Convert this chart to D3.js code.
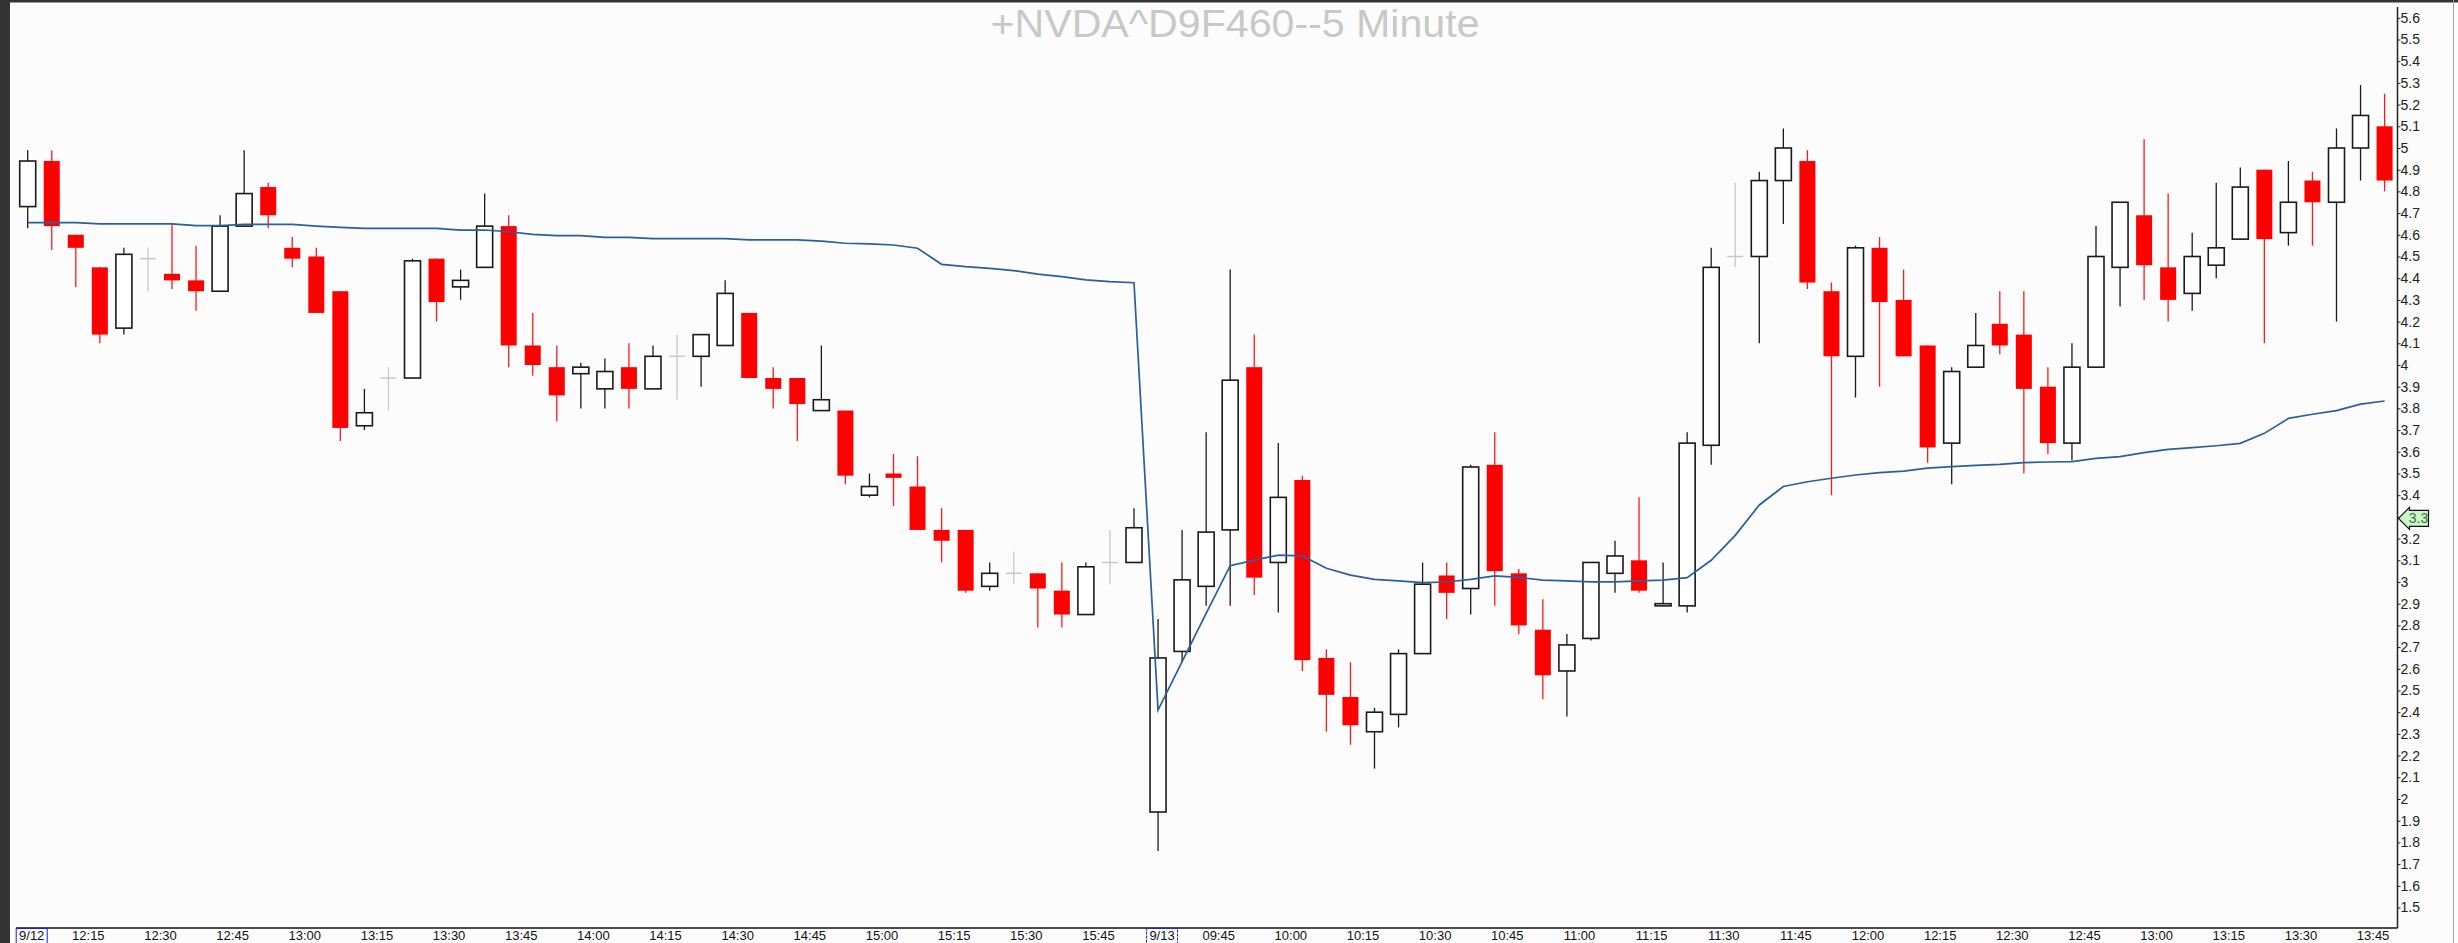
<!DOCTYPE html>
<html lang="en">
<head>
    <meta charset="UTF-8">
    <title>+NVDA^D9F460--5 Minute</title>
    <script src="https://d3js.org/d3.v7.min.js"></script>
    <style>
        body {
            margin: 0;
            overflow: hidden;
            background: #fcfcfc;
            font-family: Arial, "Liberation Sans", sans-serif;
        }
    </style>
</head>
<body>

    <svg width="2458" height="943"></svg>

    <script>
        // 5 minute bars, 9/12 afternoon then 9/13 morning
        const times = [
            "12:00","12:05","12:10","12:15","12:20","12:25","12:30","12:35","12:40","12:45",
            "12:50","12:55","13:00","13:05","13:10","13:15","13:20","13:25","13:30","13:35",
            "13:40","13:45","13:50","13:55","14:00","14:05","14:10","14:15","14:20","14:25",
            "14:30","14:35","14:40","14:45","14:50","14:55","15:00","15:05","15:10","15:15",
            "15:20","15:25","15:30","15:35","15:40","15:45","15:50",
            "09:30","09:35","09:40","09:45","09:50","09:55","10:00","10:05","10:10","10:15",
            "10:20","10:25","10:30","10:35","10:40","10:45","10:50","10:55","11:00","11:05",
            "11:10","11:15","11:20","11:25","11:30","11:35","11:40","11:45","11:50","11:55",
            "12:00","12:05","12:10","12:15","12:20","12:25","12:30","12:35","12:40","12:45",
            "12:50","12:55","13:00","13:05","13:10","13:15","13:20","13:25","13:30","13:35",
            "13:40","13:45"
        ];

        const open = [
            4.73,4.94,4.60,4.45,4.17,4.49,4.42,4.39,4.34,4.64,
            4.82,4.54,4.50,4.34,3.72,3.94,3.94,4.49,4.36,4.45,
            4.64,4.09,3.99,3.96,3.89,3.99,3.89,4.04,4.04,4.09,
            4.24,3.94,3.94,3.79,3.79,3.40,3.50,3.44,3.24,3.24,
            2.98,3.04,3.04,2.96,2.85,3.09,3.09,
            1.94,2.68,2.98,3.24,3.99,3.09,3.47,2.65,2.47,2.31,
            2.39,2.67,3.03,2.97,3.54,3.04,2.78,2.59,2.74,3.04,
            3.10,2.89,2.89,3.63,4.50,4.50,4.85,4.94,4.34,4.04,
            4.54,4.30,4.09,3.64,3.99,4.19,4.14,3.90,3.64,3.99,
            4.45,4.69,4.45,4.33,4.46,4.58,4.90,4.61,4.85,4.75,
            5.00,5.10
        ];
        const high = [
            4.99,4.99,4.60,4.45,4.54,4.54,4.65,4.55,4.69,4.99,
            4.84,4.59,4.54,4.34,3.89,3.99,4.49,4.49,4.44,4.79,
            4.69,4.24,4.09,4.01,4.03,4.10,4.09,4.14,4.14,4.39,
            4.24,3.99,3.94,4.09,3.79,3.50,3.59,3.58,3.34,3.24,
            3.09,3.14,3.04,3.09,3.09,3.24,3.34,
            2.83,3.24,3.69,4.44,4.14,3.64,3.49,2.69,2.63,2.42,
            2.69,3.09,3.09,3.54,3.69,3.06,2.92,2.76,3.09,3.19,
            3.39,3.09,3.69,4.54,4.84,4.89,5.09,4.99,4.38,4.55,
            4.59,4.44,4.09,3.99,4.24,4.34,4.34,3.99,4.10,4.64,
            4.75,5.04,4.79,4.61,4.84,4.91,4.90,4.94,4.89,5.09,
            5.29,5.25
        ];
        const low = [
            4.63,4.53,4.36,4.10,4.14,4.34,4.35,4.25,4.34,4.64,
            4.63,4.45,4.24,3.65,3.70,3.79,3.94,4.20,4.30,4.45,
            3.99,3.95,3.74,3.80,3.80,3.80,3.89,3.84,3.90,4.09,
            3.94,3.80,3.65,3.79,3.45,3.39,3.35,3.24,3.09,2.95,
            2.96,2.99,2.79,2.79,2.85,2.99,3.09,
            1.76,2.63,2.89,2.89,2.94,2.86,2.59,2.31,2.25,2.14,
            2.33,2.67,2.83,2.85,2.89,2.76,2.46,2.38,2.73,2.95,
            2.95,2.89,2.86,3.54,4.45,4.10,4.65,4.35,3.40,3.85,
            3.90,4.04,3.55,3.45,3.99,4.05,3.50,3.59,3.56,3.99,
            4.27,4.30,4.20,4.25,4.40,4.58,4.10,4.55,4.55,4.20,
            4.85,4.80
        ];
        const close = [
            4.94,4.64,4.54,4.14,4.51,4.49,4.39,4.34,4.64,4.79,
            4.69,4.49,4.24,3.71,3.78,3.94,4.48,4.29,4.39,4.64,
            4.09,4.00,3.86,3.99,3.97,3.89,4.04,4.04,4.14,4.33,
            3.94,3.89,3.82,3.84,3.49,3.44,3.48,3.24,3.19,2.96,
            3.04,3.04,2.97,2.85,3.07,3.09,3.25,
            2.65,3.01,3.23,3.93,3.02,3.39,2.64,2.48,2.34,2.40,
            2.67,2.99,2.95,3.53,3.05,2.80,2.57,2.71,3.09,3.12,
            2.96,2.90,3.64,4.45,4.50,4.85,5.00,4.38,4.04,4.54,
            4.29,4.04,3.62,3.97,4.09,4.09,3.89,3.64,3.99,4.50,
            4.75,4.46,4.30,4.50,4.54,4.82,4.58,4.75,4.75,5.00,
            5.15,4.85
        ];

        // blue average line, resets at the new session
        const avgLine = [
            4.656,4.656,4.656,4.650,4.650,4.650,4.650,4.642,4.642,4.648,
            4.648,4.648,4.640,4.634,4.630,4.630,4.630,4.630,4.622,4.622,
            4.614,4.602,4.596,4.596,4.588,4.588,4.582,4.582,4.582,4.582,
            4.577,4.577,4.577,4.571,4.561,4.558,4.553,4.538,4.464,4.453,
            4.445,4.435,4.419,4.407,4.392,4.384,4.379,
            2.410,2.633,2.855,3.075,3.101,3.124,3.120,3.063,3.032,3.012,
            3.005,2.997,3.000,3.012,3.028,3.021,3.009,3.005,3.001,3.001,
            3.005,3.009,3.020,3.100,3.215,3.355,3.440,3.462,3.478,3.493,
            3.504,3.511,3.525,3.532,3.537,3.542,3.550,3.553,3.555,3.570,
            3.578,3.596,3.611,3.619,3.628,3.639,3.685,3.754,3.773,3.790,
            3.820,3.834
        ];

        const timeLabels = ["12:15","12:30","12:45","13:00","13:15","13:30","13:45","14:00","14:15",
            "14:30","14:45","15:00","15:15","15:30","15:45",
            "09:45","10:00","10:15","10:30","10:45","11:00","11:15","11:30","11:45","12:00",
            "12:15","12:30","12:45","13:00","13:15","13:30","13:45"];
        const timeBars = [3,6,9,12,15,18,21,24,27,30,33,36,39,42,45,
            50,53,56,59,62,65,68,71,74,77,80,83,86,89,92,95,98];
        const dateLabels = ["9/12", "9/13"];
        const dateBars = [0, 47];

        const yTicks = [5.6,5.5,5.4,5.3,5.2,5.1,5,4.9,4.8,4.7,4.6,4.5,4.4,4.3,4.2,4.1,4,
            3.9,3.8,3.7,3.6,3.5,3.4,3.3,3.2,3.1,3,2.9,2.8,2.7,2.6,2.5,2.4,2.3,2.2,2.1,2,
            1.9,1.8,1.7,1.6,1.5];
        const yTickLabels = ["5.6","5.5","5.4","5.3","5.2","5.1","5","4.9","4.8","4.7","4.6","4.5",
            "4.4","4.3","4.2","4.1","4","3.9","3.8","3.7","3.6","3.5","3.4","3.3","3.2","3.1","3",
            "2.9","2.8","2.7","2.6","2.5","2.4","2.3","2.2","2.1","2","1.9","1.8","1.7","1.6","1.5"];

        const markerValue = 3.3;
        const title = "+NVDA^D9F460--5 Minute";

        // layout
        const width = 2458, height = 943;
        const axisX = 2397.5, axisY = 928;
        const bodyW = 16;

        const bars = times.map((t, i) => ({i, t, o: open[i], h: high[i], l: low[i], c: close[i]}));

        const x = d3.scaleLinear()
            .domain([0, bars.length - 1])
            .range([27.7, 2384.6]);

        const y = d3.scaleLinear()
            .domain([1.5, 5.6])
            .range([907.5, 17.8]);

        const svg = d3.select("svg");

        svg.append("rect")
            .attr("width", width).attr("height", height)
            .attr("fill", "#fcfcfc");

        // window frame
        svg.append("rect").attr("x", 0).attr("y", 0).attr("width", 10).attr("height", height).attr("fill", "#343434");
        svg.append("rect").attr("x", 0).attr("y", 0).attr("width", width).attr("height", 2.5).attr("fill", "#343434");
        svg.append("line")
            .attr("x1", 2453.5).attr("x2", 2453.5).attr("y1", 0).attr("y2", height)
            .attr("stroke", "#a0a0a0").attr("stroke-width", 1);

        // title
        svg.append("text")
            .attr("x", 1235).attr("y", 37)
            .attr("text-anchor", "middle")
            .attr("font-size", 39)
            .attr("textLength", 489)
            .attr("lengthAdjust", "spacingAndGlyphs")
            .attr("fill", "#c8c8c8")
            .text(title);

        // axes lines
        svg.append("line")
            .attr("x1", 16).attr("x2", axisX).attr("y1", axisY).attr("y2", axisY)
            .attr("stroke", "#111").attr("stroke-width", 1.5);
        svg.append("line")
            .attr("x1", axisX).attr("x2", axisX).attr("y1", 7).attr("y2", axisY)
            .attr("stroke", "#222").attr("stroke-width", 1.5);

        // y axis (the label under the price marker is hidden by it)
        const gy = svg.append("g")
            .attr("transform", `translate(${axisX},0)`)
            .call(d3.axisRight(y).tickValues(yTicks)
                .tickFormat((d, k) => yTickLabels[k])
                .tickSize(3).tickPadding(0));
        gy.select(".domain").remove();
        gy.selectAll("line").attr("stroke", "#222");
        gy.selectAll("text")
            .attr("font-size", 14)
            .attr("font-family", "Arial, 'Liberation Sans', sans-serif")
            .attr("fill", "#222")
            .filter(d => Math.abs(d - markerValue) < 1e-9)
            .remove();

        // x axis: time labels sit at the left edge of their bar slot
        const gx = svg.append("g")
            .attr("transform", `translate(0,${axisY})`)
            .call(d3.axisBottom(x).tickValues(timeBars.map(b => b - 0.5))
                .tickFormat((d, k) => timeLabels[k])
                .tickSize(0).tickPadding(2.5));
        gx.select(".domain").remove();
        gx.selectAll("text")
            .attr("font-size", 13)
            .attr("font-family", "Arial, 'Liberation Sans', sans-serif")
            .attr("fill", "#111");

        // date labels with blue box
        const gd = svg.append("g").attr("transform", `translate(0,${axisY})`);
        const dates = gd.selectAll("g.date")
            .data(dateBars)
            .enter().append("g")
            .attr("class", "date")
            .attr("transform", d => `translate(${x(d) + 4},0)`);
        dates.append("rect")
            .attr("x", -15.5).attr("y", 0.5)
            .attr("width", 31).attr("height", 18)
            .attr("fill", "none")
            .attr("stroke", "#1a1aff")
            .attr("stroke-width", 1)
            .attr("stroke-dasharray", (d, k) => k === 1 ? "3,1" : null);
        dates.append("text")
            .attr("y", 11.8)
            .attr("text-anchor", "middle")
            .attr("font-size", 13)
            .attr("fill", "#111")
            .text((d, k) => dateLabels[k]);

        // candles
        const wicks = svg.append("g");
        wicks.selectAll("line")
            .data(bars)
            .enter().append("line")
            .attr("x1", d => x(d.i)).attr("x2", d => x(d.i))
            .attr("y1", d => y(d.h)).attr("y2", d => y(d.l))
            .attr("stroke", d => d.c < d.o ? "#ff1a1a" : (d.c === d.o ? "#c8c8c8" : "#1a1a1a"))
            .attr("stroke-width", 1.3);

        svg.append("g").selectAll("line")
            .data(bars.filter(d => d.c === d.o))
            .enter().append("line")
            .attr("x1", d => x(d.i) - bodyW / 2).attr("x2", d => x(d.i) + bodyW / 2)
            .attr("y1", d => y(d.o)).attr("y2", d => y(d.o))
            .attr("stroke", "#c8c8c8")
            .attr("stroke-width", 1.5);

        svg.append("g").selectAll("rect")
            .data(bars.filter(d => d.c !== d.o))
            .enter().append("rect")
            .attr("x", d => x(d.i) - bodyW / 2)
            .attr("y", d => y(Math.max(d.o, d.c)))
            .attr("width", bodyW)
            .attr("height", d => Math.max(1, y(Math.min(d.o, d.c)) - y(Math.max(d.o, d.c))))
            .attr("fill", d => d.c < d.o ? "#ff0000" : "#ffffff")
            .attr("stroke", d => d.c < d.o ? "none" : "#1a1a1a")
            .attr("stroke-width", 1.6);

        // average line
        const line = d3.line()
            .x((d, i) => x(i))
            .y(d => y(d));

        svg.append("path")
            .datum(avgLine)
            .attr("fill", "none")
            .attr("stroke", "#2a5f9c")
            .attr("stroke-width", 1.7)
            .attr("d", line);

        // price marker on the axis
        const my = y(markerValue) + 1.5;
        svg.append("path")
            .attr("d", `M${axisX + 1},${my} L${axisX + 12},${my - 11} L${axisX + 12},${my - 8} L${axisX + 31},${my - 8} L${axisX + 31},${my + 8} L${axisX + 12},${my + 8} L${axisX + 12},${my + 11} Z`)
            .attr("fill", "#c8f8c8")
            .attr("stroke", "#111")
            .attr("stroke-width", 1.2);
        svg.append("text")
            .attr("x", axisX + 21).attr("y", my + 5)
            .attr("text-anchor", "middle")
            .attr("font-size", 14)
            .attr("fill", "#4a6a4a")
            .text(d3.format(".1f")(markerValue));

    </script>

</body>
</html>
